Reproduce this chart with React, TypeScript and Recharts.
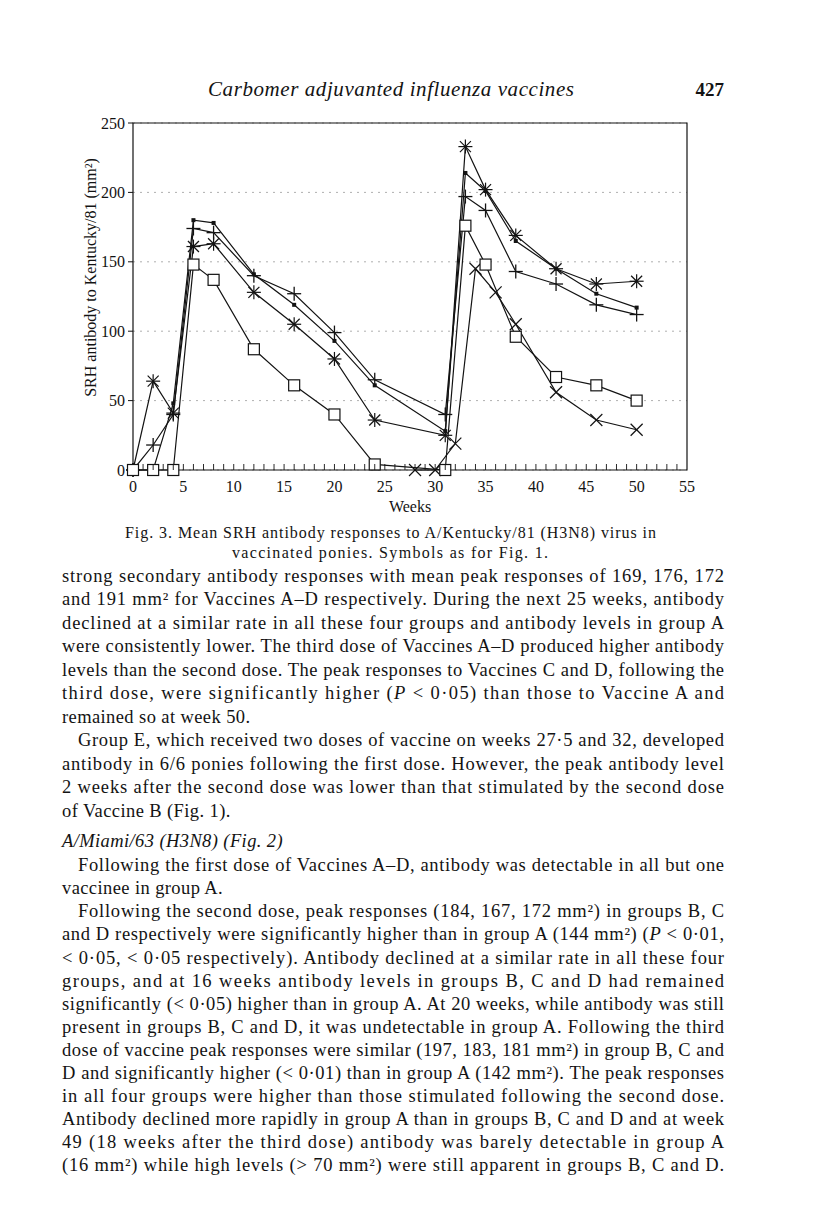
import React from 'react';
import { LineChart, Line, XAxis, YAxis, CartesianGrid, ReferenceArea, Label } from 'recharts';

// weeks sampled for groups A-D
const weeksAD = [0, 2, 4, 6, 8, 12, 16, 20, 24, 31, 33, 35, 38, 42, 46, 50];
const vaccineA = [0, 0, 0, 148, 137, 87, 61, 40, 4, 0, 176, 148, 96, 67, 61, 50];
const vaccineB = [0, 18, 40, 174, 171, 140, 127, 99, 65, 40, 197, 187, 143, 134, 119, 112];
const vaccineC = [0, 0, 48, 180, 178, 141, 119, 93, 61, 28, 214, 201, 165, 145, 127, 117];
const vaccineD = [0, 64, 41, 161, 163, 128, 105, 80, 36, 25, 233, 202, 169, 145, 134, 136];
// group E only vaccinated at 27.5 and 32 weeks
const weeksE = [28, 30, 32, 34, 36, 38, 42, 46, 50];
const vaccineE = [0, 0, 19, 145, 128, 105, 56, 36, 29];

const weekTicks = [
  0, 1, 2, 3, 4, 5, 6, 7, 8, 9, 10, 11, 12, 13, 14, 15, 16, 17, 18, 19, 20, 21, 22, 23, 24, 25, 26, 27,
  28, 29, 30, 31, 32, 33, 34, 35, 36, 37, 38, 39, 40, 41, 42, 43, 44, 45, 46, 47, 48, 49, 50, 51, 52, 53, 54, 55,
];
const srhTicks = [0, 50, 100, 150, 200, 250];

const toRows = (weeks: number[], values: number[]) => weeks.map((w, i) => ({ week: w, srh: values[i] }));

const INK = '#131313';
const AXIS_FONT = '"Liberation Serif", "Times New Roman", serif';
const BODY_FONT = '"Liberation Serif", "Times New Roman", serif';

// page text, one entry per printed line; just = stretch to full measure
const bodyLines: { text: React.ReactNode; y: number; indent?: boolean; just?: boolean; italic?: boolean }[] = [
  { text: 'strong secondary antibody responses with mean peak responses of 169, 176, 172', y: 582, just: true },
  { text: 'and 191 mm² for Vaccines A–D respectively. During the next 25 weeks, antibody', y: 605, just: true },
  { text: 'declined at a similar rate in all these four groups and antibody levels in group A', y: 629, just: true },
  { text: 'were consistently lower. The third dose of Vaccines A–D produced higher antibody', y: 652, just: true },
  { text: 'levels than the second dose. The peak responses to Vaccines C and D, following the', y: 676, just: true },
  { text: <>third dose, were significantly higher (<tspan fontStyle="italic">P</tspan> &lt; 0·05) than those to Vaccine A and</>, y: 699, just: true },
  { text: 'remained so at week 50.', y: 723 },
  { text: 'Group E, which received two doses of vaccine on weeks 27·5 and 32, developed', y: 746, indent: true, just: true },
  { text: 'antibody in 6/6 ponies following the first dose. However, the peak antibody level', y: 770, just: true },
  { text: '2 weeks after the second dose was lower than that stimulated by the second dose', y: 793, just: true },
  { text: 'of Vaccine B (Fig. 1).', y: 817 },
  { text: 'A/Miami/63 (H3N8) (Fig. 2)', y: 847, italic: true },
  { text: 'Following the first dose of Vaccines A–D, antibody was detectable in all but one', y: 871, indent: true, just: true },
  { text: 'vaccinee in group A.', y: 894 },
  { text: 'Following the second dose, peak responses (184, 167, 172 mm²) in groups B, C', y: 917, indent: true, just: true },
  { text: <>and D respectively were significantly higher than in group A (144 mm²) (<tspan fontStyle="italic">P</tspan> &lt; 0·01,</>, y: 940, just: true },
  { text: '< 0·05, < 0·05 respectively). Antibody declined at a similar rate in all these four', y: 964, just: true },
  { text: 'groups, and at 16 weeks antibody levels in groups B, C and D had remained', y: 987, just: true },
  { text: 'significantly (< 0·05) higher than in group A. At 20 weeks, while antibody was still', y: 1010, just: true },
  { text: 'present in groups B, C and D, it was undetectable in group A. Following the third', y: 1033, just: true },
  { text: 'dose of vaccine peak responses were similar (197, 183, 181 mm²) in group B, C and', y: 1056, just: true },
  { text: 'D and significantly higher (< 0·01) than in group A (142 mm²). The peak responses', y: 1079, just: true },
  { text: 'in all four groups were higher than those stimulated following the second dose.', y: 1102, just: true },
  { text: 'Antibody declined more rapidly in group A than in groups B, C and D and at week', y: 1125, just: true },
  { text: '49 (18 weeks after the third dose) antibody was barely detectable in group A', y: 1148, just: true },
  { text: '(16 mm²) while high levels (> 70 mm²) were still apparent in groups B, C and D.', y: 1171, just: true },
];

const LEFT = 62;
const RIGHT = 724;
const INDENT = 16;

function OpenSquare({ cx, cy }: { cx: number; cy: number }) {
  return <rect x={cx - 5.5} y={cy - 5.5} width={11} height={11} fill="#fff" stroke={INK} strokeWidth={1.2} />;
}

function PlusMark({ cx, cy }: { cx: number; cy: number }) {
  return (
    <g stroke={INK} strokeWidth={1.3}>
      <line x1={cx - 7} x2={cx + 7} y1={cy} y2={cy} />
      <line x1={cx} x2={cx} y1={cy - 7} y2={cy + 7} />
    </g>
  );
}

function DotMark({ cx, cy }: { cx: number; cy: number }) {
  return <rect x={cx - 2} y={cy - 2} width={4} height={4} fill={INK} />;
}

function StarMark({ cx, cy }: { cx: number; cy: number }) {
  return (
    <g stroke={INK} strokeWidth={1.2}>
      <line x1={cx - 7} x2={cx + 7} y1={cy} y2={cy} />
      <line x1={cx} x2={cx} y1={cy - 7} y2={cy + 7} />
      <line x1={cx - 5.5} x2={cx + 5.5} y1={cy - 5.5} y2={cy + 5.5} />
      <line x1={cx - 5.5} x2={cx + 5.5} y1={cy + 5.5} y2={cy - 5.5} />
    </g>
  );
}

function CrossMark({ cx, cy }: { cx: number; cy: number }) {
  return (
    <g stroke={INK} strokeWidth={1.2}>
      <line x1={cx - 6} x2={cx + 6} y1={cy - 6} y2={cy + 6} />
      <line x1={cx - 6} x2={cx + 6} y1={cy + 6} y2={cy - 6} />
    </g>
  );
}

// tickSize 6 + tickMargin 2 => the axis sits 8px above the y we get
function WeekTick(props: any) {
  const { x, y, payload } = props;
  const v = payload.value;
  const axisY = y - 8;
  return (
    <g>
      {v > 0 && v < 55 && <line x1={x} x2={x} y1={axisY} y2={axisY - 6} stroke={INK} strokeWidth={0.9} />}
      {v % 5 === 0 && (
        <text x={x} y={axisY + 22} textAnchor="middle" fontSize={16} fontFamily={AXIS_FONT} fill={INK}>
          {v}
        </text>
      )}
    </g>
  );
}

const markerFor = (Mark: any) => (p: any) => <Mark key={`m-${p.index}`} cx={p.cx} cy={p.cy} />;

export default function App() {
  return (
    <div style={{ position: 'absolute', left: 0, top: 0, width: 816, height: 1230, background: '#fff', overflow: 'hidden' }}>
      <svg width={816} height={1230} style={{ position: 'absolute', left: 0, top: 0 }}>
        <text x={391} y={96} textAnchor="middle" textLength={366} lengthAdjust="spacing" fontSize={21} fontStyle="italic" fontFamily={BODY_FONT} fill={INK}>
          Carbomer adjuvanted influenza vaccines
        </text>
        <text x={RIGHT} y={96} textAnchor="end" fontSize={19} fontWeight="bold" fontFamily={BODY_FONT} fill={INK}>
          427
        </text>

        <text x={125} y={538} textLength={531} lengthAdjust="spacing" fontSize={16} fontFamily={BODY_FONT} fill={INK}>
          Fig. 3. Mean SRH antibody responses to A/Kentucky/81 (H3N8) virus in
        </text>
        <text x={232} y={558} textLength={316} lengthAdjust="spacing" fontSize={16} fontFamily={BODY_FONT} fill={INK}>
          vaccinated ponies. Symbols as for Fig. 1.
        </text>

        {bodyLines.map((ln, i) => {
          const x = LEFT + (ln.indent ? INDENT : 0);
          return (
            <text
              key={i}
              x={x}
              y={ln.y}
              textLength={ln.just ? RIGHT - x : undefined}
              lengthAdjust="spacing"
              letterSpacing={ln.just ? undefined : 0.4}
              fontSize={18.5}
              fontStyle={ln.italic ? 'italic' : 'normal'}
              fontFamily={BODY_FONT}
              fill={INK}
            >
              {ln.text}
            </text>
          );
        })}
      </svg>

      <div style={{ position: 'absolute', left: 0, top: 100 }}>
        <LineChart width={700} height={420} margin={{ top: 23, right: 13, bottom: 0, left: 73 }}>
          <CartesianGrid vertical={false} stroke="#9a9a9a" strokeDasharray="2 5" strokeWidth={0.8} />
          <ReferenceArea x1={0} x2={55} y1={0} y2={250} fill="none" stroke={INK} strokeWidth={1.2} ifOverflow="visible" />
          <XAxis
            dataKey="week"
            type="number"
            domain={[0, 55]}
            ticks={weekTicks}
            interval={0}
            height={50}
            tickSize={6}
            tickMargin={2}
            axisLine={false}
            tickLine={false}
            tick={<WeekTick />}
            allowDuplicatedCategory={false}
          >
            <Label
              content={({ viewBox }: any) => (
                <text x={viewBox.x + viewBox.width / 2} y={viewBox.y + 42} textAnchor="middle" fontSize={16} fontFamily={AXIS_FONT} fill={INK}>
                  Weeks
                </text>
              )}
            />
          </XAxis>
          <YAxis
            type="number"
            domain={[0, 250]}
            ticks={srhTicks}
            width={60}
            tickSize={5}
            tickMargin={3}
            axisLine={false}
            tickLine={{ stroke: INK }}
            tick={{ fontSize: 16, fontFamily: AXIS_FONT, fill: INK }}
          >
            <Label
              content={({ viewBox }: any) => {
                const cx = viewBox.x + viewBox.width - 37;
                const cy = viewBox.y + viewBox.height / 2 - 19;
                return (
                  <text x={cx} y={cy} transform={`rotate(-90 ${cx} ${cy})`} textAnchor="middle" fontSize={16} fontFamily={AXIS_FONT} fill={INK}>
                    SRH antibody to Kentucky/81 (mm²)
                  </text>
                );
              }}
            />
          </YAxis>
          <Line data={toRows(weeksE, vaccineE)} dataKey="srh" stroke={INK} strokeWidth={1.2} dot={markerFor(CrossMark)} isAnimationActive={false} />
          <Line data={toRows(weeksAD, vaccineD)} dataKey="srh" stroke={INK} strokeWidth={1.2} dot={markerFor(StarMark)} isAnimationActive={false} />
          <Line data={toRows(weeksAD, vaccineC)} dataKey="srh" stroke={INK} strokeWidth={1.2} dot={markerFor(DotMark)} isAnimationActive={false} />
          <Line data={toRows(weeksAD, vaccineB)} dataKey="srh" stroke={INK} strokeWidth={1.2} dot={markerFor(PlusMark)} isAnimationActive={false} />
          <Line data={toRows(weeksAD, vaccineA)} dataKey="srh" stroke={INK} strokeWidth={1.2} dot={markerFor(OpenSquare)} isAnimationActive={false} />
        </LineChart>
      </div>
    </div>
  );
}
